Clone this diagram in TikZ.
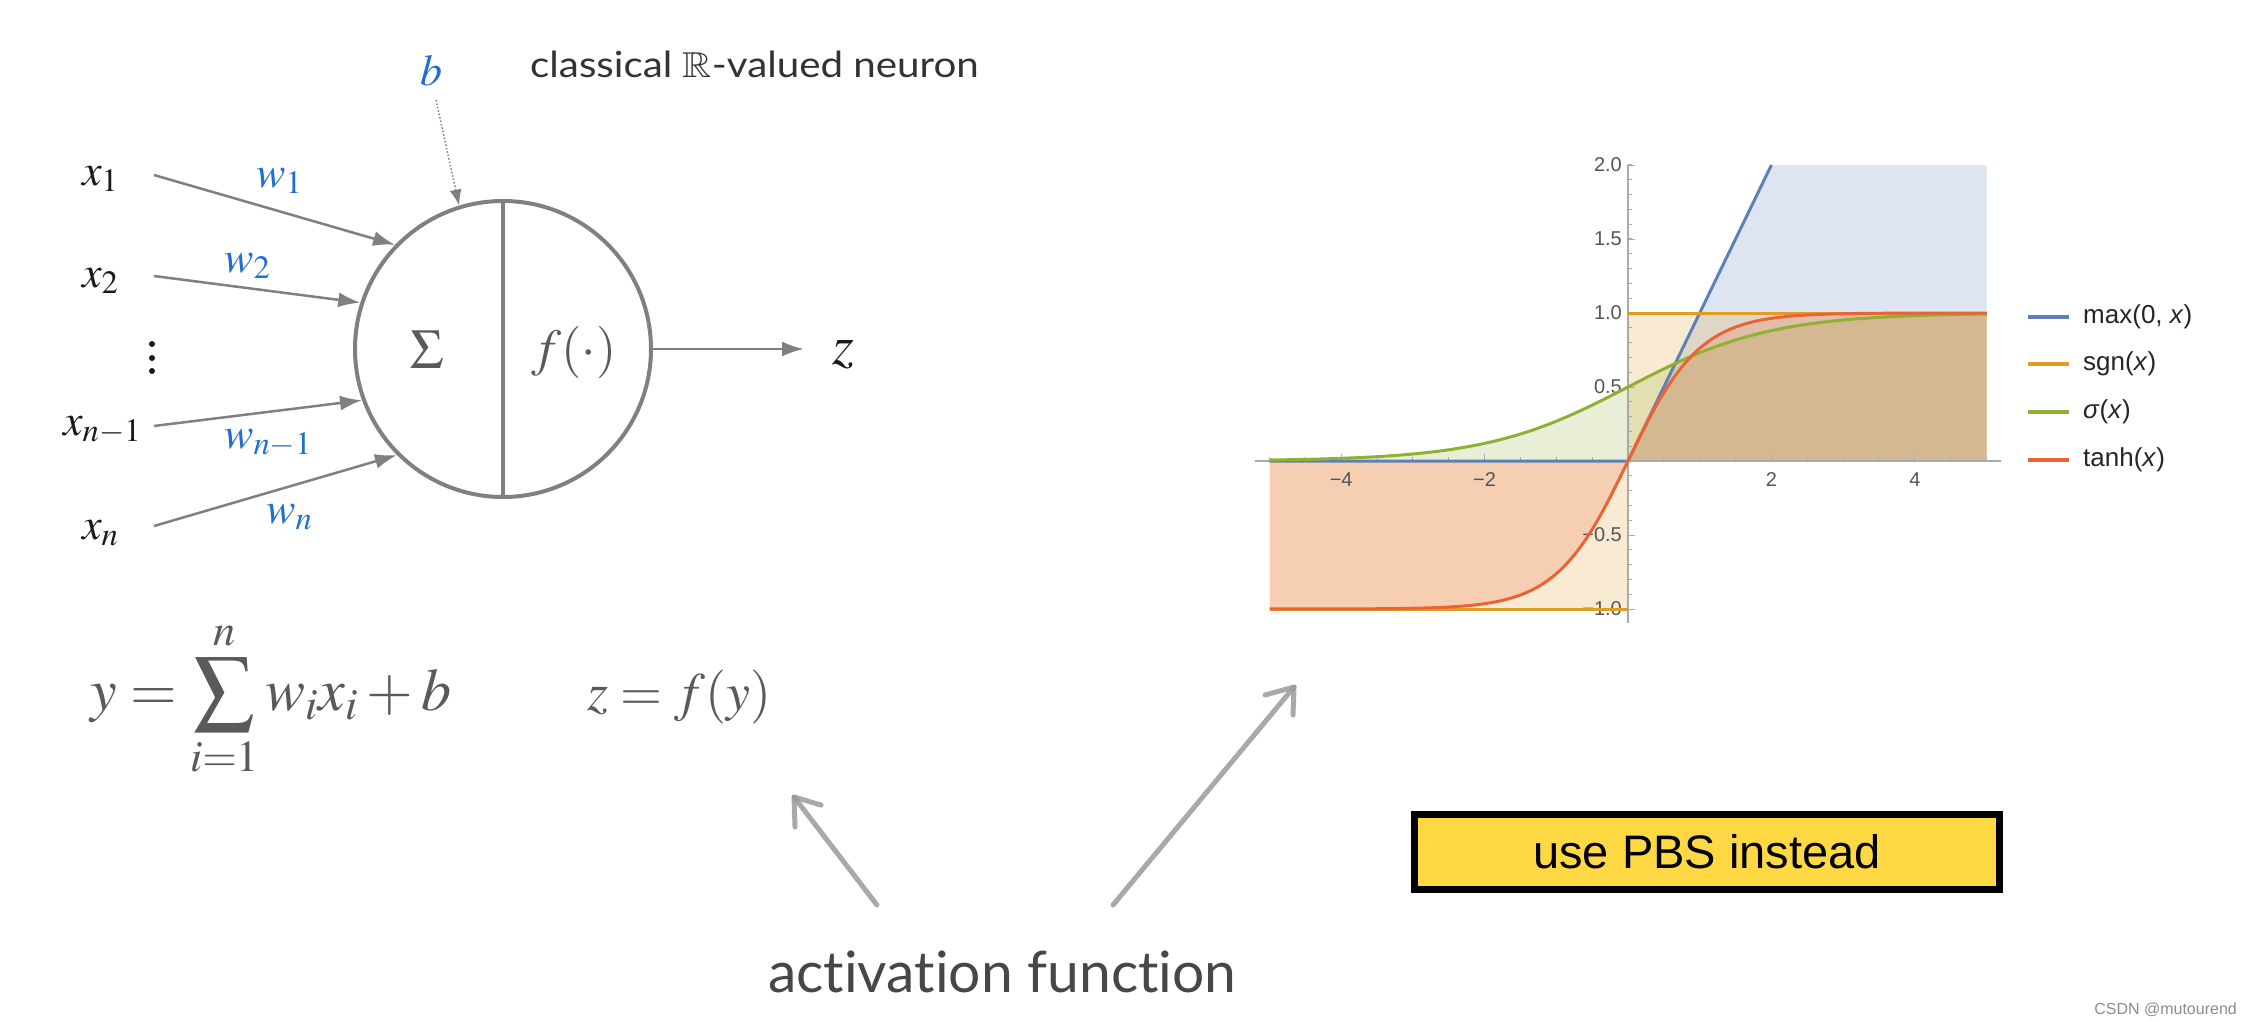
\documentclass[tikz,border=0pt]{standalone}
\usepackage{mathptmx}
\usepackage{amssymb}
\usepackage{graphicx}
\usepackage[no-math]{fontspec}
\newfontfamily\lato[Ligatures=NoCommon]{Lato}
\newfontfamily\arial{Liberation Sans}
\usetikzlibrary{arrows.meta}
\definecolor{ngray}{HTML}{808080}
\definecolor{wblue}{HTML}{1F6FD0}
\definecolor{mblue}{HTML}{5E81B5}
\definecolor{morange}{HTML}{E19C24}
\definecolor{mgreen}{HTML}{8FB032}
\definecolor{mred}{HTML}{EB6235}
\definecolor{pbsyellow}{HTML}{FFD944}
\definecolor{fgray}{HTML}{5A5A5A}
\definecolor{axgray}{HTML}{AAAAAA}
\definecolor{tickgray}{HTML}{555555}
\definecolor{pencil}{HTML}{9A9A9A}
\tikzset{
  lab/.style={font=\fontsize{44}{48}\selectfont, inner sep=0pt, anchor=base west, text=black!90},
  blab/.style={lab, text=wblue},
  inarrow/.style={draw=ngray, line width=2.5pt, -{Latex[length=22pt,width=15pt]}},
  dotarrow/.style={draw=ngray, line width=1.5pt, dotted, -{Latex[length=16pt,width=12pt]}},
  pencilline/.style={draw=pencil, line width=5pt, line cap=round, line join=round, opacity=0.85},
  ticklab/.style={font=\arial\fontsize{20}{22}\selectfont, text=tickgray, inner sep=0pt},
  leglab/.style={font=\arial\fontsize{26}{28}\selectfont, text=black!85, inner sep=0pt, anchor=west},
  legline/.style={line width=3.5pt},
  curve/.style={line width=3pt, line join=round, line cap=butt},
  areafill/.style={fill opacity=0.2},
}
\begin{document}
\begin{tikzpicture}[x=1pt,y=-1pt]
\fill[white] (0,0) rectangle (2248,1022);
\useasboundingbox (0,0) rectangle (2248,1022);

% ---------------- neuron ----------------
\node[circle, draw=ngray, line width=4pt, minimum size=296pt, inner sep=0pt] (neuron) at (503,349) {};
\draw[ngray, line width=3.5pt] (neuron.north) -- (neuron.south);
\node[text=fgray, font=\fontsize{56}{58}\selectfont] (sig) at (427,350) {$\Sigma$};
\node[text=fgray, font=\fontsize{52}{56}\selectfont] (fdot) at (574,352) {$f(\cdot)$};

\node[lab] (x1) at (82,185) {$x_1$};
\node[lab] (x2) at (82,287) {$x_2$};
\node[lab] (xn1) at (63,435) {$x_{n-1}$};
\node[lab] (xn) at (82,539) {$x_n$};
\foreach \yy in {344,358,371} \fill[black!90] (152,\yy) circle[radius=3pt];

\node[blab] (w1) at (256,187) {$w_1$};
\node[blab] (w2) at (224,272) {$w_2$};
\node[blab] (wn1) at (224,448) {$w_{n-1}$};
\node[blab] (wn) at (266,523) {$w_n$};
\node[blab] (b) at (420,86) {$b$};

\coordinate (s1) at (154,175);
\coordinate (s2) at (154,276);
\coordinate (s3) at (154,426);
\coordinate (s4) at (154,526);
\coordinate (sb) at (436,100);
\coordinate (out) at (804,349);
\draw[inarrow] (s1) -- (neuron.136);
\draw[inarrow] (s2) -- (neuron.162);
\draw[inarrow] (s3) -- (neuron.200);
\draw[inarrow] (s4) -- (neuron.225);
\draw[dotarrow] (sb) -- (neuron.107);
\draw[inarrow] (neuron.east) -- (out);
\node[lab, font=\fontsize{56}{60}\selectfont] (z) at (832,364) {$z$};

\node[inner sep=0pt, anchor=base west, text=black!80, font=\lato\fontsize{36}{38}\selectfont] (title) at (530,78) {\scalebox{1.12}[1]{classical $\mathbb{R}$-valued neuron}};

% ---------------- formulas ----------------
\node[inner sep=0pt, anchor=base west, text=fgray, font=\fontsize{60}{64}\selectfont] (eq1) at (90,710) {$y=\displaystyle\sum_{i=1}^{n} w_i x_i + b$};
\node[inner sep=0pt, anchor=base west, text=fgray, font=\fontsize{54}{58}\selectfont] (eq2) at (587,710) {$z=f(y)$};

% ---------------- activation function ----------------
\node[inner sep=0pt, anchor=base west, text=black!72, font=\lato\fontsize{57}{60}\selectfont] (act) at (768,992) {activation function};
\coordinate (la0) at (877,905);
\coordinate (la1) at (794,797);
\coordinate (la2) at (795,827);
\coordinate (la3) at (821,805);
\draw[pencilline] (la0) -- (la1);
\draw[pencilline] (la2) -- (la1) -- (la3);
\coordinate (ra0) at (1113,905);
\coordinate (ra1) at (1294,687);
\coordinate (ra2) at (1265,695);
\coordinate (ra3) at (1293,715);
\draw[pencilline] (ra0) -- (ra1);
\draw[pencilline] (ra2) -- (ra1) -- (ra3);

% ---------------- plot ----------------
\begin{scope}[shift={(1628,461)}, x=71.7pt, y=148pt]
  % fills
  \fill[mblue, areafill] (0,0) -- (2,2) -- (5,2) -- (5,0) -- cycle;
  \fill[morange, areafill] (-5,0) rectangle (0,-1);
  \fill[morange, areafill] (0,0) rectangle (5,1);
  \fill[mgreen, areafill] (-5,0) -- plot[domain=-5:5, samples=81, smooth] (\x,{1/(1+exp(-\x))}) -- (5,0) -- cycle;
  \fill[mred, areafill] (-5,0) -- plot[domain=-5:5, samples=81, smooth] (\x,{tanh(\x)}) -- (5,0) -- cycle;
  % axes
  \draw[axgray, line width=1.5pt] (-5.2,0) -- (5.2,0);
  \draw[axgray, line width=1.5pt] (0,-1.095) -- (0,2);
  \foreach \t in {-1.0,-0.9,...,2.05} \draw[axgray, line width=1pt] (0,\t) -- ++(4pt,0pt);
  \foreach \t in {-1,-0.5,0.5,1,1.5,2} \draw[axgray, line width=1pt] (0,\t) -- ++(7pt,0pt);
  \foreach \t in {-5,-4.5,...,5.1} \draw[axgray, line width=1pt] (\t,0) -- ++(0pt,4pt);
  \foreach \t in {-4,-2,2,4} \draw[axgray, line width=1pt] (\t,0) -- ++(0pt,7pt);
  % tick labels
  \foreach \t/\l in {2/2.0,1.5/1.5,1/1.0,0.5/0.5,-0.5/−0.5,-1/−1.0}
    \node[ticklab, anchor=east] at ([xshift=-6pt]0,\t) {\l};
  \foreach \t/\l in {-4/−4,-2/−2,2/2,4/4}
    \node[ticklab] at ([yshift=-19pt]\t,0) {\l};
  % curves
  \draw[mblue, curve] (-5,0) -- (0,0) -- (2,2);
  \draw[morange, curve] (-5,-1) -- (0,-1);
  \draw[morange, curve] (0,1) -- (5,1);
  \draw[mgreen, curve] plot[domain=-5:5, samples=81, smooth] (\x,{1/(1+exp(-\x))});
  \draw[mred, curve] plot[domain=-5:5, samples=81, smooth] (\x,{tanh(\x)});
\end{scope}

% legend
\draw[mblue, legline] (2028,317) -- (2069,317);
\draw[morange, legline] (2028,364) -- (2069,364);
\draw[mgreen, legline] (2028,412) -- (2069,412);
\draw[mred, legline] (2028,460) -- (2069,460);
\node[leglab] (l1) at (2083,317) {max(0, \textit{x})};
\node[leglab] (l2) at (2083,364) {sgn(\textit{x})};
\node[leglab] (l3) at (2083,412) {\textit{σ}(\textit{x})};
\node[leglab] (l4) at (2083,460) {tanh(\textit{x})};

% ---------------- PBS box ----------------
\node[draw=black, line width=7pt, fill=pbsyellow, minimum width=585pt, minimum height=75pt, inner sep=0pt,
      font=\arial\fontsize{47}{50}\selectfont] (pbs) at (1707,852) {use PBS instead};

\node[anchor=base east, inner sep=0pt, text=black!45, font=\arial\fontsize{16}{18}\selectfont] (wm) at (2237,1014) {CSDN @mutourend};
\end{tikzpicture}
\end{document}
